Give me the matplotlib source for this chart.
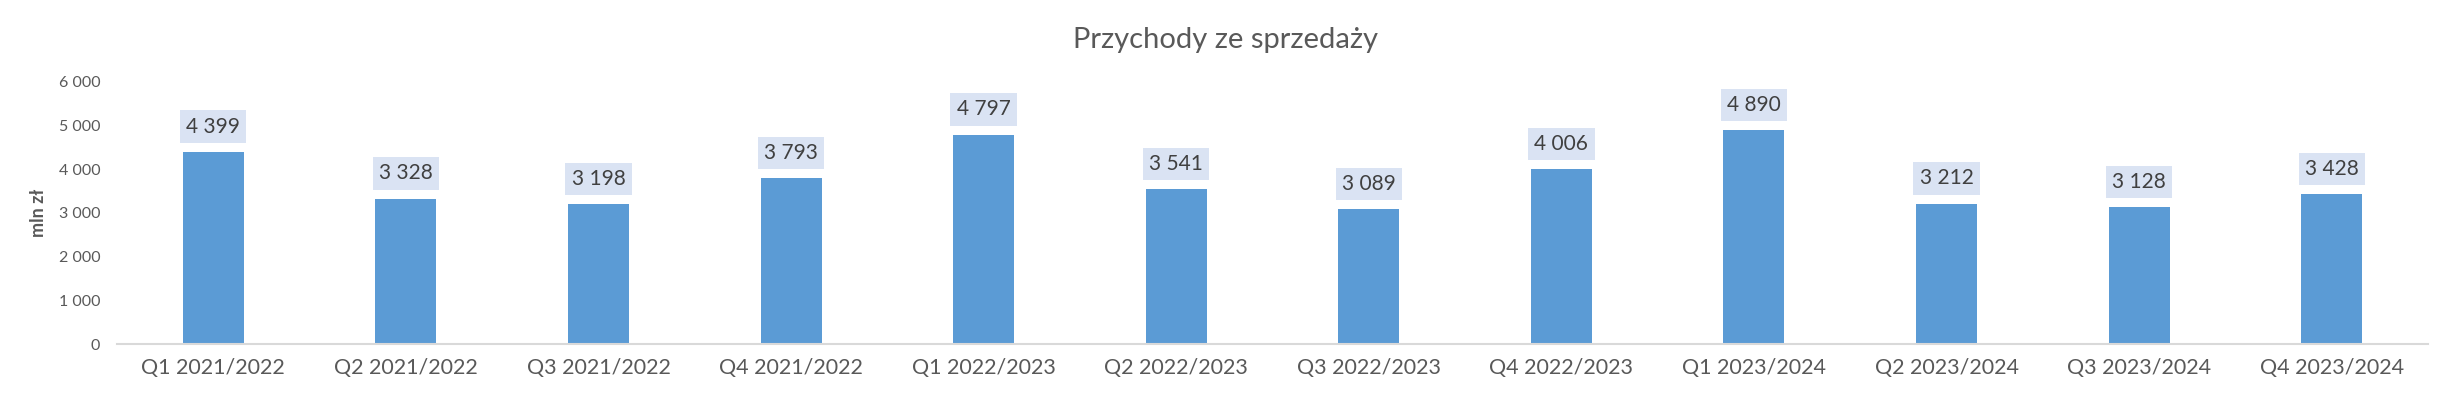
import matplotlib
matplotlib.use("Agg")
import matplotlib.pyplot as plt
from matplotlib.ticker import FuncFormatter

categories = ["Q1 2021/2022", "Q2 2021/2022", "Q3 2021/2022", "Q4 2021/2022",
              "Q1 2022/2023", "Q2 2022/2023", "Q3 2022/2023", "Q4 2022/2023",
              "Q1 2023/2024", "Q2 2023/2024", "Q3 2023/2024", "Q4 2023/2024"]
values = [4399, 3328, 3198, 3793, 4797, 3541, 3089, 4006, 4890, 3212, 3128, 3428]
title = "Przychody ze sprzedaży"
ylabel = "mln zł"

plt.rcParams['font.family'] = ['Lato', 'DejaVu Sans']

W, H = 2451, 405
fig = plt.figure(figsize=(W / 100, H / 100), dpi=100)
ax = fig.add_axes([117 / W, (H - 344) / H, (2428 - 117) / W, (344 - 82) / H])

x = list(range(len(categories)))
ax.bar(x, values, width=0.317, color="#5B9BD5", zorder=2)
ax.set_xlim(-0.5, len(categories) - 0.5)
ax.set_ylim(0, 6000)
ax.set_yticks(range(0, 6001, 1000))
ax.yaxis.set_major_formatter(FuncFormatter(lambda v, p: f"{int(v):,}".replace(",", " ")))
ax.set_xticks(x)
ax.set_xticklabels(categories)

for s in ["top", "right", "left"]:
    ax.spines[s].set_visible(False)
ax.spines["bottom"].set_color("#D9D9D9")
ax.spines["bottom"].set_linewidth(1.5)

ax.tick_params(axis="y", length=0, pad=12, labelsize=11.5, labelcolor="#595959")
ax.tick_params(axis="x", length=0, pad=10, labelsize=15.5, labelcolor="#595959")
ax.set_ylabel(ylabel, fontsize=13, color="#595959", fontweight="bold")
ax.yaxis.set_label_coords(-0.0303, 0.5)

for xi, v in zip(x, values):
    ax.annotate(f"{v:,}".replace(",", " "), xy=(xi, v), xytext=(0, 11),
                textcoords="offset points", ha="center", va="bottom",
                fontsize=15, color="#404040",
                bbox=dict(boxstyle="square,pad=0.3", fc="#DAE3F3", ec="none"))

fig.text(0.5, 1 - 40 / H, title, ha="center", va="center", fontsize=21, color="#595959")

fig.savefig("out.png", dpi=100, facecolor="white")
